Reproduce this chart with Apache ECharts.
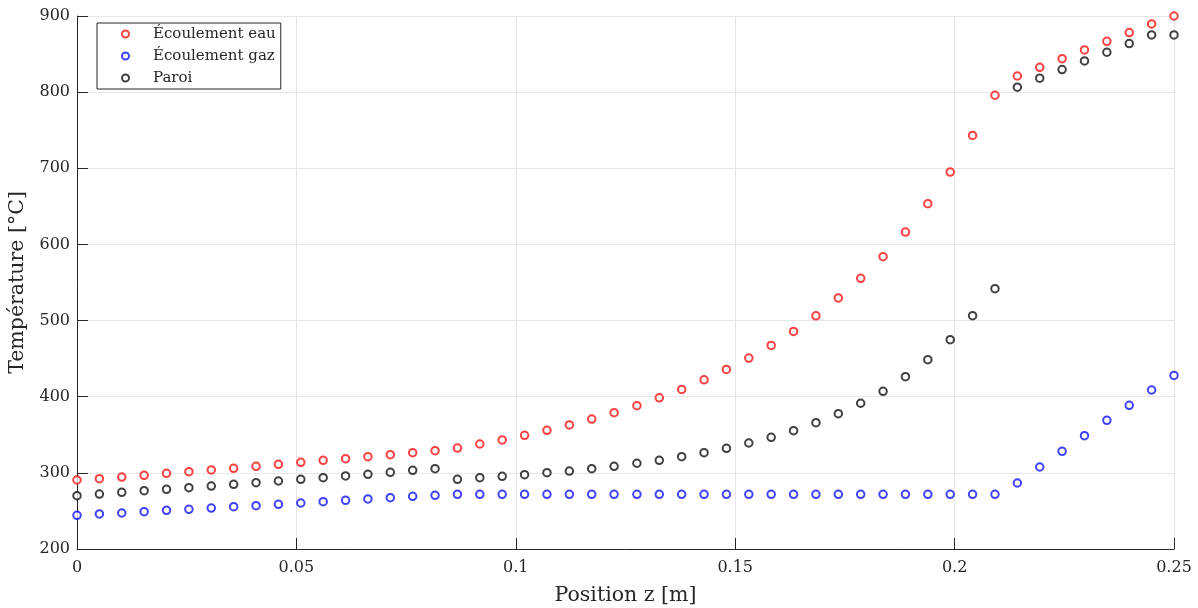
<!DOCTYPE html>
<html>
<head>
<meta charset="utf-8">
<script src="https://cdn.jsdelivr.net/npm/echarts@6/dist/echarts.min.js"></script>
<style>
  html, body { margin: 0; padding: 0; background: #fff; }
  #chart { width: 1198px; height: 608px; }
</style>
</head>
<body>
<div id="chart"></div>
<script>
// Position z [m]
const positions = [
  0, 0.0051, 0.0102, 0.0153, 0.0204, 0.0255, 0.0306, 0.0357, 0.0408, 0.0459,
  0.0510, 0.0561, 0.0612, 0.0663, 0.0714, 0.0765, 0.0816, 0.0867, 0.0918, 0.0969,
  0.1020, 0.1071, 0.1122, 0.1173, 0.1224, 0.1276, 0.1327, 0.1378, 0.1429, 0.1480,
  0.1531, 0.1582, 0.1633, 0.1684, 0.1735, 0.1786, 0.1837, 0.1888, 0.1939, 0.1990,
  0.2041, 0.2092, 0.2143, 0.2194, 0.2245, 0.2296, 0.2347, 0.2398, 0.2449, 0.2500
];
// Écoulement eau
const eau = [
  290.6, 292.4, 294.5, 296.7, 299.4, 301.6, 303.8, 306.0, 308.6, 311.2,
  313.9, 316.5, 318.6, 321.2, 323.9, 326.5, 329.1, 332.6, 337.9, 343.2,
  349.3, 355.9, 362.9, 370.7, 379.1, 388.2, 398.6, 409.6, 422.2, 435.8,
  450.7, 467.3, 485.7, 506.2, 529.8, 555.5, 583.9, 616.3, 653.5, 695.1,
  743.2, 795.9, 821.2, 832.6, 844.0, 855.4, 866.8, 878.2, 889.6, 900.0
];
// Écoulement gaz
const gaz = [
  244.3, 246.0, 247.3, 249.0, 250.8, 252.1, 253.8, 255.6, 256.9, 258.7,
  260.4, 262.1, 264.0, 265.7, 267.4, 269.2, 270.5, 271.8, 271.8, 271.8,
  271.8, 271.8, 271.8, 271.8, 271.8, 271.8, 271.8, 271.8, 271.8, 271.8,
  271.8, 271.8, 271.8, 271.8, 271.8, 271.8, 271.8, 271.8, 271.8, 271.8,
  271.8, 271.8, 286.7, 307.7, 328.3, 348.8, 369.0, 388.7, 408.8, 428.0
];
// Paroi
const paroi = [
  270.0, 272.2, 274.4, 276.6, 278.4, 280.5, 282.7, 284.9, 287.1, 289.3,
  291.5, 293.6, 295.9, 298.1, 300.7, 303.4, 305.5, 291.5, 293.6, 295.4,
  297.6, 300.2, 302.4, 305.5, 308.6, 312.6, 316.5, 321.2, 326.5, 332.2,
  339.2, 346.7, 355.4, 365.9, 377.7, 391.4, 407.1, 426.3, 448.6, 474.9,
  506.4, 541.9, 806.5, 818.3, 829.7, 841.0, 852.4, 863.8, 875.2, 875.2
];
const seriesNames = ['Écoulement eau', 'Écoulement gaz', 'Paroi'];
const seriesColors = ['#ff0000', '#0000ff', '#000000'];
const xTicks = [0, 0.05, 0.1, 0.15, 0.2, 0.25];
const yTicks = [200, 300, 400, 500, 600, 700, 800, 900];

const FONT = 'DejaVu Serif';
const TXT = '#262626';

function pairs(ys) { return positions.map((x, i) => [x, ys[i]]); }
const allData = [eau, gaz, paroi];

const chart = echarts.init(document.getElementById('chart'), null, { renderer: 'canvas' });
chart.setOption({
  animation: false,
  backgroundColor: '#ffffff',
  grid: { left: 77, right: 24, top: 16, bottom: 59, containLabel: false, outerBoundsMode: 'none' },
  legend: {
    left: 97, top: 23,
    orient: 'vertical',
    backgroundColor: '#ffffff',
    borderColor: '#262626',
    borderWidth: 1,
    borderRadius: 0,
    padding: [0, 5, 0, 24],
    itemGap: 0,
    itemWidth: 7, itemHeight: 7,
    icon: 'emptyCircle',
    data: seriesNames,
    itemStyle: { borderWidth: 0.7 },
    textStyle: { fontFamily: FONT, fontSize: 15, color: TXT, lineHeight: 22, height: 22, padding: [0, 0, 0, 19] }
  },
  xAxis: {
    type: 'value',
    min: xTicks[0], max: xTicks[xTicks.length - 1], interval: 0.05,
    name: 'Position z [m]', nameLocation: 'middle', nameGap: 36,
    nameTextStyle: { fontFamily: FONT, fontSize: 20.5, color: TXT },
    axisLine: { show: true, onZero: false, lineStyle: { color: TXT, width: 1 } },
    axisTick: { show: true, inside: true, length: 11, lineStyle: { color: TXT } },
    axisLabel: { fontFamily: FONT, fontSize: 16, color: TXT, margin: 11,
      formatter: v => String(Number(v.toFixed(2))) },
    splitLine: { show: true, lineStyle: { color: '#e6e6e6', width: 1 } }
  },
  yAxis: {
    type: 'value',
    min: yTicks[0], max: yTicks[yTicks.length - 1], interval: 100,
    name: 'Température [°C]', nameLocation: 'middle', nameGap: 43, nameRotate: 90,
    nameTextStyle: { fontFamily: FONT, fontSize: 20.5, color: TXT },
    axisLine: { show: true, onZero: false, lineStyle: { color: TXT, width: 1 } },
    axisTick: { show: true, inside: true, length: 11, lineStyle: { color: TXT } },
    axisLabel: { fontFamily: FONT, fontSize: 16, color: TXT, margin: 7 },
    splitLine: { show: true, lineStyle: { color: '#e6e6e6', width: 1 } }
  },
  series: seriesNames.map((name, k) => ({
    name: name,
    type: 'scatter',
    data: pairs(allData[k]),
    symbol: 'emptyCircle',
    symbolSize: 7.5,
    itemStyle: { color: seriesColors[k], borderColor: seriesColors[k], borderWidth: 0.7, opacity: 0.75 }
  }))
});
</script>
</body>
</html>
